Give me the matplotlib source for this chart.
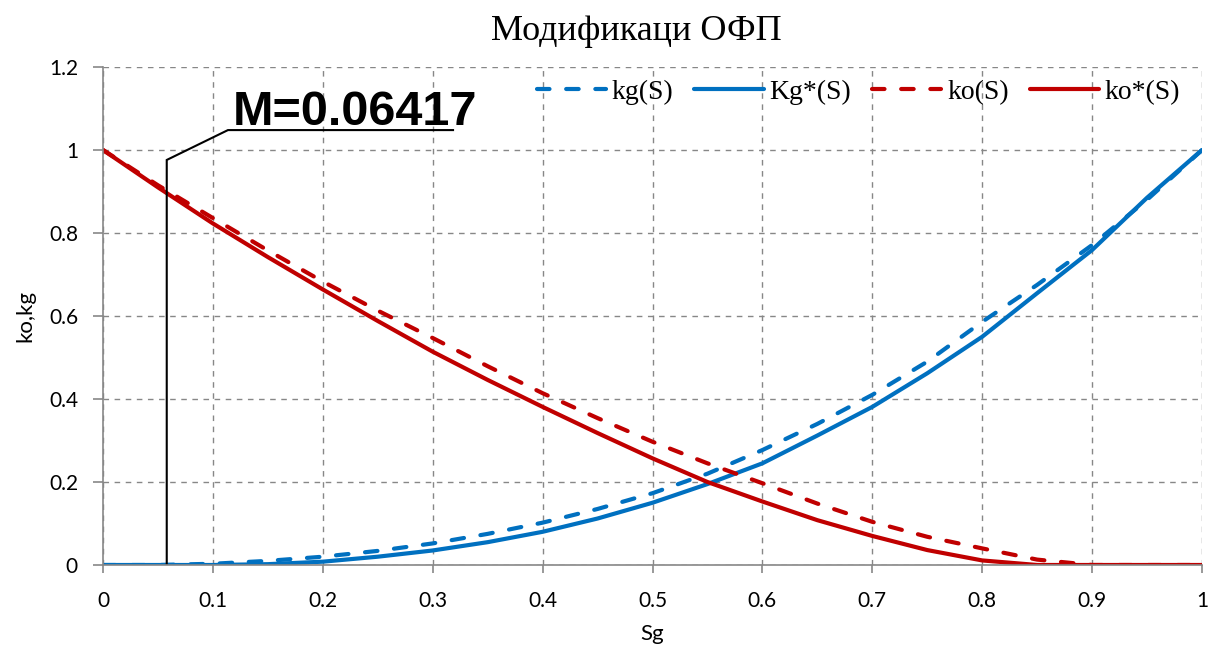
import matplotlib
matplotlib.use("Agg")
import matplotlib.pyplot as plt
from matplotlib.ticker import FormatStrFormatter, MultipleLocator

# ---- data ----
sg = [0.0, 0.05, 0.1, 0.15, 0.2, 0.25, 0.3, 0.35, 0.4, 0.45, 0.5,
      0.55, 0.6, 0.65, 0.7, 0.75, 0.8, 0.85, 0.9, 0.95, 1.0]
kg = [0.0, 0.0, 0.003, 0.01, 0.02, 0.034, 0.052, 0.075, 0.102, 0.135, 0.173,
      0.22, 0.277, 0.34, 0.41, 0.49, 0.586, 0.675, 0.771, 0.88, 1.0]
kg_star = [0.0, 0.0, 0.0, 0.002, 0.008, 0.02, 0.035, 0.055, 0.08, 0.112, 0.15,
           0.195, 0.245, 0.312, 0.381, 0.462, 0.55, 0.655, 0.759, 0.885, 1.0]
ko = [1.0, 0.915, 0.836, 0.758, 0.683, 0.613, 0.547, 0.479, 0.414, 0.354, 0.297,
      0.245, 0.197, 0.148, 0.104, 0.068, 0.04, 0.013, 0.0, 0.0, 0.0]
ko_star = [1.0, 0.91, 0.823, 0.742, 0.664, 0.588, 0.514, 0.446, 0.381, 0.318, 0.257,
           0.2, 0.153, 0.108, 0.07, 0.036, 0.011, 0.0, 0.0, 0.0, 0.0]

labels = ["kg(S)", "Kg*(S)", "ko(S)", "ko*(S)"]
title = "Модификаци ОФП"
xlabel = "Sg"
ylabel = "ko,kg"
m_text = "M=0.06417"
# annotation leader line (callout) in data coordinates
m_line_x = [0.058, 0.058, 0.1137, 0.3185]
m_line_y = [0.0, 0.976, 1.048, 1.048]
m_text_pos = (0.118, 1.060)

BLUE = "#0070C0"
RED = "#C00000"
GRAY = "#878787"

fig = plt.figure(figsize=(12.08, 6.53), dpi=100)
ax = fig.add_axes([103 / 1208, 1 - 565 / 653, 1099 / 1208, (565 - 67) / 653])

lw = 3.0
dash = (3.0, 4.0)
ax.plot(sg, kg, color=BLUE, lw=lw, dashes=dash, dash_capstyle="round", label=labels[0])
ax.plot(sg, kg_star, color=BLUE, lw=lw, solid_capstyle="round", label=labels[1])
ax.plot(sg, ko, color=RED, lw=lw, dashes=dash, dash_capstyle="round", label=labels[2])
ax.plot(sg, ko_star, color=RED, lw=lw, solid_capstyle="round", label=labels[3])

ax.plot(m_line_x, m_line_y, color="black", lw=1.5, solid_joinstyle="miter")
ax.text(m_text_pos[0], m_text_pos[1], m_text, fontsize=35, fontweight="bold",
        family=["Liberation Sans", "DejaVu Sans"], va="baseline", ha="left")

ax.set_xlim(0, 1)
ax.set_ylim(0, 1.2)
ax.xaxis.set_major_locator(MultipleLocator(0.1))
ax.yaxis.set_major_locator(MultipleLocator(0.2))
ax.xaxis.set_major_formatter(FormatStrFormatter("%g"))
ax.yaxis.set_major_formatter(FormatStrFormatter("%g"))

for s in ["top", "right"]:
    ax.spines[s].set_visible(False)
for s in ["left", "bottom"]:
    ax.spines[s].set_color(GRAY)
    ax.spines[s].set_linewidth(1.2)

ax.grid(True, color=GRAY, lw=1.0, dashes=(4, 4))
ax.set_axisbelow(True)
ax.tick_params(axis="both", colors=GRAY, labelcolor="black", labelsize=15, width=1.2)
ax.tick_params(axis="y", length=7, pad=11)
ax.tick_params(axis="x", length=6, pad=13)
for t in ax.get_xticklabels() + ax.get_yticklabels():
    t.set_family(["Lato", "DejaVu Sans"])
ax.set_xlabel(xlabel, fontsize=16, family=["Lato", "DejaVu Sans"], labelpad=9)
ax.set_ylabel(ylabel, fontsize=16, family=["Lato", "DejaVu Sans"], labelpad=10)

fig.text(636 / 1208, 1 - 32 / 653, title, fontsize=26, ha="center", va="center",
         family=["Liberation Serif", "DejaVu Serif"])

leg = ax.legend(loc="center right", bbox_to_anchor=((1180 - 103) / 1099, (565 - 92) / 498),
                ncol=4, frameon=False, prop={"family": "Liberation Serif", "size": 20},
                handlelength=2.5, handletextpad=0.2, columnspacing=0.75,
                borderaxespad=0.0, borderpad=0.0)

fig.savefig("out.png", dpi=100)
